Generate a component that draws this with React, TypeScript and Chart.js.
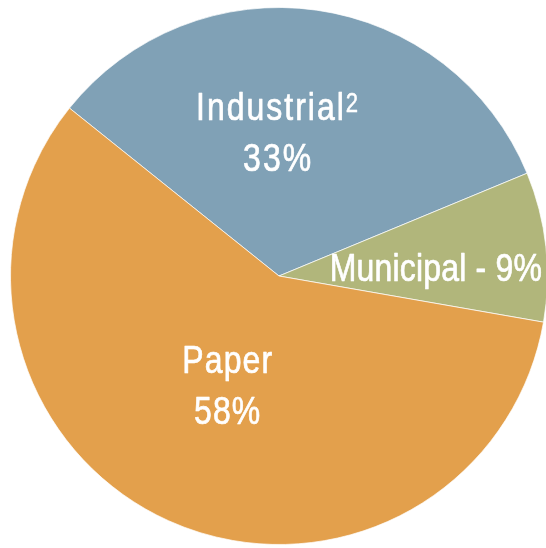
import React, { useEffect, useRef } from "react";
import { Chart, registerables } from "chart.js";

Chart.register(...registerables);

// ---- data ----
const categories = ["Industrial", "Municipal", "Paper"];
const shares = [33, 9, 58];
const labelLines = [["Industrial", "33%"], ["Municipal - 9%"], ["Paper", "58%"]];
const superscripts = ["2", "", ""];

// ---- styles / placement ----
const colors = ["#80A1B6", "#B1B67B", "#E3A04C"];
// label anchor: first-line baseline, as fractions of the pie radius from its centre
const labelAnchors = [
  { fx: -0.007, fy: -0.58 },
  { fx: 0.584, fy: 0.019 },
  { fx: -0.193, fy: 0.361 },
];
const labelTracking = [2.0, 0.2, 1.1];
const FONT_FAMILY = '"Liberation Sans", Arial, sans-serif';
const FONT_SIZE = 39;
const SUP_SIZE = 27;
const SCALE_X = 0.82; // condensed look
const LINE_GAP = 51;
const TEXT_WEIGHT_STROKE = 0.7;

const labelPlugin = {
  id: "sliceLabels",
  afterDatasetsDraw(chart: any) {
    const meta = chart.getDatasetMeta(0);
    const arc0 = meta.data[0];
    if (!arc0) return;
    const cx = arc0.x;
    const cy = arc0.y;
    const r = arc0.outerRadius;
    const ctx = chart.ctx;
    ctx.save();
    ctx.fillStyle = "#ffffff";
    ctx.strokeStyle = "#ffffff";
    ctx.lineJoin = "round";
    ctx.textBaseline = "alphabetic";
    ctx.textAlign = "left";
    labelLines.forEach((lines, i) => {
      const a = labelAnchors[i];
      const x = cx + a.fx * r;
      let y = cy + a.fy * r;
      const track = labelTracking[i] / SCALE_X;
      lines.forEach((line, li) => {
        const sup = li === 0 ? superscripts[i] : "";
        ctx.font = `${FONT_SIZE}px ${FONT_FAMILY}`;
        (ctx as any).letterSpacing = `${track}px`;
        const w1 = (ctx.measureText(line).width - track) * SCALE_X;
        let w2 = 0;
        if (sup) {
          ctx.font = `${SUP_SIZE}px ${FONT_FAMILY}`;
          (ctx as any).letterSpacing = "0px";
          w2 = ctx.measureText(sup).width * SCALE_X + 2;
        }
        const start = x - (w1 + w2) / 2;
        ctx.save();
        ctx.translate(start, y);
        ctx.scale(SCALE_X, 1);
        ctx.lineWidth = TEXT_WEIGHT_STROKE;
        ctx.font = `${FONT_SIZE}px ${FONT_FAMILY}`;
        (ctx as any).letterSpacing = `${track}px`;
        ctx.fillText(line, 0, 0);
        ctx.strokeText(line, 0, 0);
        ctx.restore();
        if (sup) {
          ctx.save();
          ctx.translate(start + w1 + 2, y - FONT_SIZE * 0.22);
          ctx.scale(SCALE_X, 1);
          ctx.lineWidth = TEXT_WEIGHT_STROKE * 0.7;
          ctx.font = `${SUP_SIZE}px ${FONT_FAMILY}`;
          (ctx as any).letterSpacing = "0px";
          ctx.fillText(sup, 0, 0);
          ctx.strokeText(sup, 0, 0);
          ctx.restore();
        }
        y += LINE_GAP;
      });
    });
    ctx.restore();
  },
};

export default function App() {
  const ref = useRef<HTMLCanvasElement | null>(null);
  useEffect(() => {
    if (!ref.current) return;
    const chart = new Chart(ref.current, {
      type: "pie",
      data: {
        labels: categories,
        datasets: [
          {
            data: shares,
            backgroundColor: colors,
            borderColor: "rgba(255,255,255,0.7)",
            borderWidth: 1,
          },
        ],
      },
      options: {
        animation: false,
        responsive: false,
        maintainAspectRatio: false,
        rotation: -51.3,
        layout: { padding: { left: 10, right: 10, top: 7, bottom: 7 } },
        plugins: {
          legend: { display: false },
          tooltip: { enabled: false },
        },
      },
      plugins: [labelPlugin],
    });
    return () => chart.destroy();
  }, []);
  return (
    <div
      style={{
        position: "fixed",
        left: 0,
        top: 0,
        width: 546,
        height: 548,
        overflow: "hidden",
        background: "#ffffff",
      }}
    >
      <canvas ref={ref} width={558} height={552} style={{ width: 558, height: 552, display: "block" }} />
    </div>
  );
}
